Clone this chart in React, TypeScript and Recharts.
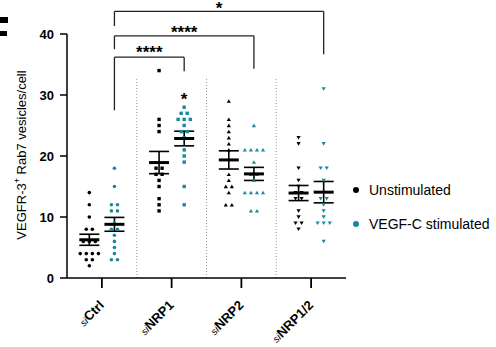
import { ErrorBar, ReferenceDot, ReferenceLine, Scatter, ScatterChart, XAxis, YAxis } from "recharts";

const groups = ["siCtrl", "siNRP1", "siNRP2", "siNRP1/2"];
const markerKinds = ["circle", "square", "triangleUp", "triangleDown"];

// vesicles per cell, one list per condition
const unstimulated = [
  [14, 12, 10, 8, 8, 6, 6, 6, 4, 4, 4, 4, 3, 3, 2],
  [34, 26, 25, 24, 18, 18, 17, 17, 16, 15, 13, 12, 11],
  [29, 26, 25, 24, 23, 22, 21, 17, 16, 15, 15, 14, 12, 12],
  [23, 22, 18, 16, 15, 14, 14, 13, 13, 11, 10, 9, 9, 8]
];
const stimulated = [
  [18, 15, 12, 12, 11, 11, 9, 8, 8, 7, 6, 5, 4, 3, 3],
  [28, 27, 27, 26, 26, 26, 25, 24, 24, 23, 21, 20, 19, 15, 12],
  [25, 21, 21, 21, 21, 19, 17, 17, 16, 14, 14, 14, 14, 11, 11],
  [31, 22, 18, 18, 16, 13, 13, 12, 11, 10, 9, 9, 9, 6]
];

const series = [
  { name: "Unstimulated", color: "#000000", values: unstimulated, offset: -0.18 },
  { name: "VEGF-C stimulated", color: "#17899a", values: stimulated, offset: 0.18 }
];

const yTicks = [0, 10, 20, 30, 40];
const groupTicks = [0.5, 1.5, 2.5, 3.5];

// significance brackets: x in group units, y in data units
const brackets = [
  { x1: 0.68, x2: 1.68, top: 36.2, leftEnd: 27.5, rightEnd: 33.9, label: "****", labelY: 37.5 },
  { x1: 0.68, x2: 2.68, top: 39.7, leftEnd: 37.5, rightEnd: 34.3, label: "****", labelY: 40.8 },
  { x1: 0.68, x2: 3.68, top: 43.7, leftEnd: 41.3, rightEnd: 36.7, label: "*", labelY: 44.8 }
];
const extraStars = [{ x: 1.68, y: 29.8, label: "*" }];

const FONT = "'Liberation Sans', Arial, sans-serif";
const jitterStep = 0.087;

function spread(values: number[], center: number) {
  const counts: Record<number, number> = {};
  values.forEach((v) => (counts[v] = (counts[v] || 0) + 1));
  const seen: Record<number, number> = {};
  return values.map((v) => {
    seen[v] = (seen[v] ?? -1) + 1;
    return { x: center + (seen[v] - (counts[v] - 1) / 2) * jitterStep, y: v };
  });
}

function meanSem(values: number[]) {
  const n = values.length;
  const mean = values.reduce((a, b) => a + b, 0) / n;
  const sd = Math.sqrt(values.reduce((a, b) => a + (b - mean) ** 2, 0) / (n - 1));
  return { mean, sem: sd / Math.sqrt(n) };
}

function Marker({ cx, cy, fill, kind }: any) {
  if (cx == null || cy == null) return null;
  if (kind === "circle") return <circle cx={cx} cy={cy} r={1.8} fill={fill} />;
  if (kind === "square") return <rect x={cx - 1.7} y={cy - 1.7} width={3.4} height={3.4} fill={fill} />;
  if (kind === "triangleUp")
    return <polygon points={`${cx - 2.1},${cy + 1.7} ${cx + 2.1},${cy + 1.7} ${cx},${cy - 1.9}`} fill={fill} />;
  return <polygon points={`${cx - 2.1},${cy - 1.7} ${cx + 2.1},${cy - 1.7} ${cx},${cy + 1.9}`} fill={fill} />;
}

function MeanLine({ cx, cy }: any) {
  if (cx == null || cy == null) return null;
  return <line x1={cx - 10} x2={cx + 10} y1={cy} y2={cy} stroke="#000" strokeWidth={3} />;
}

function renderGroupTick(props: any) {
  const { x, y, payload } = props;
  const name = groups[Math.round(payload.value - 0.5)] ?? "";
  const ax = x + 3;
  const ay = y + 16;
  return (
    <text x={ax} y={ay} transform={`rotate(-45, ${ax}, ${ay})`} textAnchor="end" fontFamily={FONT} fill="#000">
      <tspan fontSize={10} fontStyle="italic">si</tspan>
      <tspan fontSize={13} fontWeight="bold">{name.slice(2)}</tspan>
    </text>
  );
}

function YLabel() {
  return (
    <text transform="translate(26,155) rotate(-90)" textAnchor="middle" fontFamily={FONT} fontSize={13} fill="#000">
      VEGFR-3<tspan fontSize={9} dy={-6}>+</tspan>
      <tspan dy={6}> Rab7 vesicles/cell</tspan>
    </text>
  );
}

function Star({ cx, cy, label }: any) {
  return (
    <text x={cx} y={cy + 9} textAnchor="middle" fontFamily={FONT} fontSize={17} fontWeight="bold" fill="#000">
      {label}
    </text>
  );
}

export default function App() {
  const summary = series.flatMap((s) =>
    s.values.map((vals, g) => {
      const { mean, sem } = meanSem(vals);
      return { x: g + 0.5 + s.offset, y: mean, sem };
    })
  );

  return (
    <div style={{ position: "fixed", left: 0, top: 0, width: 496, height: 347, background: "#fff" }}>
      <div style={{ position: "absolute", left: 0, top: 17, width: 8, height: 6, background: "#000" }} />
      <div style={{ position: "absolute", left: 0, top: 31, width: 7, height: 5, background: "#000" }} />
      <ScatterChart width={496} height={347} margin={{ top: 34, right: 150, bottom: 9, left: 0 }}>
        <XAxis
          type="number"
          dataKey="x"
          domain={[0, 4]}
          ticks={groupTicks}
          tick={renderGroupTick}
          tickSize={10}
          interval={0}
          height={60}
          axisLine={{ stroke: "#000", strokeWidth: 1.5 }}
          tickLine={{ stroke: "#000", strokeWidth: 1.8 }}
        />
        <YAxis
          type="number"
          dataKey="y"
          domain={[0, 40]}
          ticks={yTicks}
          width={67}
          tickSize={7}
          tickMargin={6}
          axisLine={{ stroke: "#000", strokeWidth: 1.5 }}
          tickLine={{ stroke: "#000", strokeWidth: 1.5 }}
          tick={{ fill: "#000", fontSize: 13, fontWeight: "bold", fontFamily: FONT }}
        />
        {[1, 2, 3].map((x) => (
          <ReferenceLine
            key={`sep-${x}`}
            segment={[{ x, y: 0 }, { x, y: 32.8 }]}
            stroke="#9a9a9a"
            strokeDasharray="1 2"
          />
        ))}
        {series.flatMap((s) =>
          s.values.map((vals, g) => (
            <Scatter
              key={`${s.name}-${g}`}
              name={s.name}
              data={spread(vals, g + 0.5 + s.offset)}
              fill={s.color}
              isAnimationActive={false}
              shape={(p: any) => <Marker {...p} fill={s.color} kind={markerKinds[g]} />}
            />
          ))
        )}
        <Scatter data={summary} isAnimationActive={false} shape={(p: any) => <MeanLine {...p} />}>
          <ErrorBar dataKey="sem" direction="y" width={10} stroke="#000" strokeWidth={1.6} />
        </Scatter>
        {brackets.flatMap((b, i) => [
          <ReferenceLine key={`bl-${i}`} ifOverflow="visible" segment={[{ x: b.x1, y: b.leftEnd }, { x: b.x1, y: b.top }]} stroke="#222" strokeWidth={1.3} />,
          <ReferenceLine key={`bt-${i}`} ifOverflow="visible" segment={[{ x: b.x1, y: b.top }, { x: b.x2, y: b.top }]} stroke="#222" strokeWidth={1.3} />,
          <ReferenceLine key={`br-${i}`} ifOverflow="visible" segment={[{ x: b.x2, y: b.top }, { x: b.x2, y: b.rightEnd }]} stroke="#222" strokeWidth={1.3} />,
          <ReferenceDot
            key={`bs-${i}`}
            x={(b.x1 + b.x2) / 2}
            y={b.labelY}
            ifOverflow="visible"
            shape={(p: any) => <Star {...p} label={b.label} />}
          />
        ])}
        {extraStars.map((s, i) => (
          <ReferenceDot
            key={`star-${i}`}
            x={s.x}
            y={s.y}
            ifOverflow="visible"
            shape={(p: any) => <Star {...p} label={s.label} />}
          />
        ))}
        <YLabel />
      </ScatterChart>
      <div style={{ position: "absolute", left: 353, top: 180, fontFamily: FONT, fontSize: 14, color: "#000" }}>
        {series.map((s) => (
          <div key={s.name} style={{ display: "flex", alignItems: "center", height: 20, marginBottom: 14 }}>
            <span style={{ width: 6, height: 6, borderRadius: 3, background: s.color, marginRight: 10 }} />
            {s.name}
          </div>
        ))}
      </div>
    </div>
  );
}
